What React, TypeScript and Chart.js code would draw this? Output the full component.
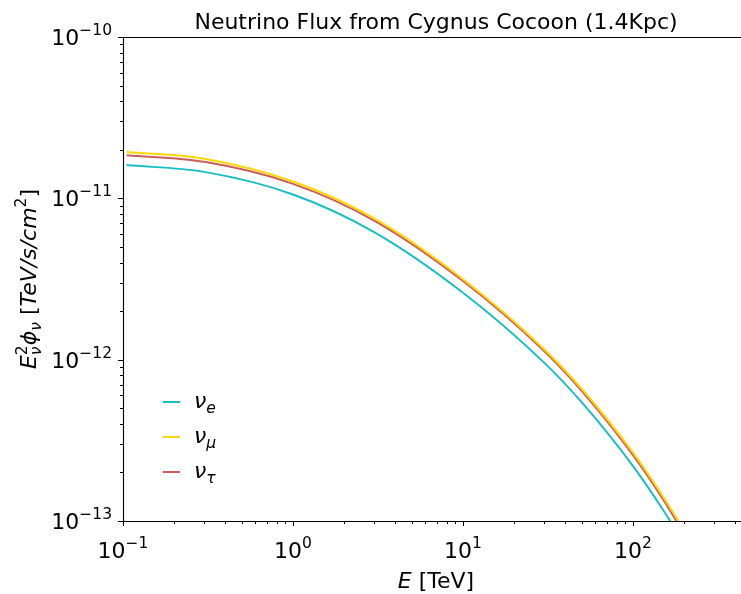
import React, { useEffect, useRef } from "react";
import { Chart, registerables } from "chart.js";

Chart.register(...registerables);

const energyTeV = [0.105, 0.3, 1, 3, 10, 30, 50, 100, 150, 190, 250];
const fluxNuE = [1.607e-11, 1.459e-11, 1.057e-11, 6.18e-12, 2.60e-12, 9.59e-13, 5.43e-13, 2.19e-13, 1.175e-13, 7.87e-14, 4.79e-14];
const fluxNuMu = [1.936e-11, 1.762e-11, 1.271e-11, 7.50e-12, 3.15e-12, 1.161e-12, 6.58e-13, 2.65e-13, 1.42e-13, 9.53e-14, 5.79e-14];
const fluxNuTau = [1.849e-11, 1.683e-11, 1.230e-11, 7.28e-12, 3.07e-12, 1.130e-12, 6.38e-13, 2.56e-13, 1.365e-13, 9.10e-14, 5.53e-14];

const seriesNames = ["e", "μ", "τ"];
const seriesColors = ["#17bfc4", "#ffd700", "#cd5c5c"];

const xTickValues = [0.1, 1, 10, 100];
const xTickExps = ["−1", "0", "1", "2"];
const yTickValues = [1e-13, 1e-12, 1e-11, 1e-10];
const yTickExps = ["−13", "−12", "−11", "−10"];

const titleText = "Neutrino Flux from Cygnus Cocoon (1.4Kpc)";

const FONT = '"DejaVu Sans", sans-serif';

type Part = { t: string; s: number; it?: boolean; dy?: number; stack?: boolean };

function partsWidth(ctx: CanvasRenderingContext2D, parts: Part[]) {
  let w = 0;
  let held = 0;
  for (const p of parts) {
    ctx.font = `${p.it ? "italic " : ""}${p.s}px ${FONT}`;
    const pw = ctx.measureText(p.t).width;
    if (p.stack) {
      held = pw;
      continue;
    }
    w += Math.max(pw, held);
    held = 0;
  }
  return w;
}

function drawRich(ctx: CanvasRenderingContext2D, parts: Part[], x: number, y: number, align: "left" | "center" | "right") {
  const total = partsWidth(ctx, parts);
  let cx = align === "left" ? x : align === "center" ? x - total / 2 : x - total;
  let held = 0;
  ctx.textAlign = "left";
  ctx.textBaseline = "alphabetic";
  for (const p of parts) {
    ctx.font = `${p.it ? "italic " : ""}${p.s}px ${FONT}`;
    const pw = ctx.measureText(p.t).width;
    ctx.fillText(p.t, cx, y + (p.dy || 0));
    if (p.stack) {
      held = pw;
      continue;
    }
    cx += Math.max(pw, held);
    held = 0;
  }
}

const decorPlugin = {
  id: "decor",
  afterDraw(chart: any) {
    const ctx: CanvasRenderingContext2D = chart.ctx;
    const { left, right, top, bottom } = chart.chartArea;
    const xs = chart.scales.x;
    const ys = chart.scales.y;
    ctx.save();
    ctx.strokeStyle = "#000";
    ctx.fillStyle = "#000";
    ctx.lineWidth = 1.1;
    ctx.beginPath();
    ctx.moveTo(left, top + 0.5);
    ctx.lineTo(right, top + 0.5);
    ctx.moveTo(left + 0.5, top);
    ctx.lineTo(left + 0.5, bottom);
    ctx.moveTo(left, bottom + 0.5);
    ctx.lineTo(right, bottom + 0.5);
    ctx.stroke();

    ctx.lineWidth = 1;
    ctx.beginPath();
    for (let e = -1; e <= 2; e++) {
      for (let m = 1; m <= 9; m++) {
        const v = m * Math.pow(10, e);
        if (v < xs.min || v > xs.max) continue;
        const px = Math.round(xs.getPixelForValue(v)) + 0.5;
        const len = m === 1 ? 5 : 3;
        ctx.moveTo(px, bottom);
        ctx.lineTo(px, bottom + len);
      }
    }
    for (let e = -13; e <= -11; e++) {
      for (let m = 1; m <= 9; m++) {
        const v = m * Math.pow(10, e);
        const py = Math.round(ys.getPixelForValue(v)) + 0.5;
        const len = m === 1 ? 5 : 3;
        ctx.moveTo(left, py);
        ctx.lineTo(left - len, py);
      }
    }
    const pyTop = Math.round(ys.getPixelForValue(1e-10)) + 0.5;
    ctx.moveTo(left, pyTop);
    ctx.lineTo(left - 5, pyTop);
    ctx.stroke();

    xTickValues.forEach((v, i) => {
      const px = xs.getPixelForValue(v);
      drawRich(ctx, [
        { t: "10", s: 22 },
        { t: xTickExps[i], s: 15.5, dy: -10 },
      ], px, 558, "center");
    });
    yTickValues.forEach((v, i) => {
      const py = ys.getPixelForValue(v);
      drawRich(ctx, [
        { t: "10", s: 22 },
        { t: yTickExps[i], s: 15.5, dy: -10 },
      ], 112, py + 8, "right");
    });

    drawRich(ctx, [{ t: titleText, s: 22 }], (left + right) / 2, 29, "center");

    drawRich(ctx, [
      { t: "E", s: 22, it: true },
      { t: " [TeV]", s: 22 },
    ], (left + right) / 2, 588, "center");

    ctx.save();
    ctx.translate(36, (top + bottom) / 2);
    ctx.rotate(-Math.PI / 2);
    drawRich(ctx, [
      { t: "E", s: 22, it: true },
      { t: "ν", s: 15.5, it: true, dy: 5, stack: true },
      { t: "2", s: 15.5, dy: -9 },
      { t: "ϕ", s: 22, it: true },
      { t: "ν", s: 15.5, it: true, dy: 5 },
      { t: " [", s: 22 },
      { t: "TeV/s/cm", s: 22, it: true },
      { t: "2", s: 15.5, dy: -10 },
      { t: "]", s: 22 },
    ], 0, 0, "center");
    ctx.restore();

    const rows = [402, 437, 472];
    seriesNames.forEach((n, i) => {
      ctx.strokeStyle = seriesColors[i];
      ctx.lineWidth = 2;
      ctx.beginPath();
      ctx.moveTo(163, rows[i]);
      ctx.lineTo(180, rows[i]);
      ctx.stroke();
      ctx.fillStyle = "#000";
      drawRich(ctx, [
        { t: "ν", s: 22, it: true },
        { t: n, s: 15.5, it: true, dy: 5 },
      ], 194, rows[i] + 6, "left");
    });
    ctx.restore();
  },
};

export default function App() {
  const ref = useRef<HTMLCanvasElement | null>(null);
  useEffect(() => {
    if (!ref.current) return;
    const mk = (vals: number[]) => energyTeV.map((x, i) => ({ x, y: vals[i] }));
    const chart = new Chart(ref.current, {
      type: "line",
      data: {
        datasets: [
          { label: "νe", data: mk(fluxNuE), borderColor: seriesColors[0] },
          { label: "νμ", data: mk(fluxNuMu), borderColor: seriesColors[1] },
          { label: "ντ", data: mk(fluxNuTau), borderColor: seriesColors[2] },
        ].map((d) => ({
          ...d,
          borderWidth: 2,
          pointRadius: 0,
          fill: false,
          cubicInterpolationMode: "monotone" as const,
        })),
      },
      options: {
        animation: false,
        responsive: false,
        devicePixelRatio: 1,
        layout: { padding: { top: 37, right: 0, left: 0, bottom: 0 } },
        plugins: { legend: { display: false }, tooltip: { enabled: false } },
        scales: {
          x: {
            type: "logarithmic",
            min: 0.1,
            max: 481,
            grid: { display: false },
            border: { display: false },
            ticks: { display: false },
            afterFit: (s: any) => {
              s.height = 73;
            },
          },
          y: {
            type: "logarithmic",
            min: 1e-13,
            max: 1e-10,
            grid: { display: false },
            border: { display: false },
            ticks: { display: false },
            afterFit: (s: any) => {
              s.width = 123;
            },
          },
        },
      },
      plugins: [decorPlugin],
    });
    return () => chart.destroy();
  }, []);
  return (
    <div style={{ position: "fixed", left: 0, top: 0, width: 741, height: 594, overflow: "hidden", background: "#fff" }}>
      <canvas ref={ref} width={749} height={594} style={{ display: "block" }} />
    </div>
  );
}
